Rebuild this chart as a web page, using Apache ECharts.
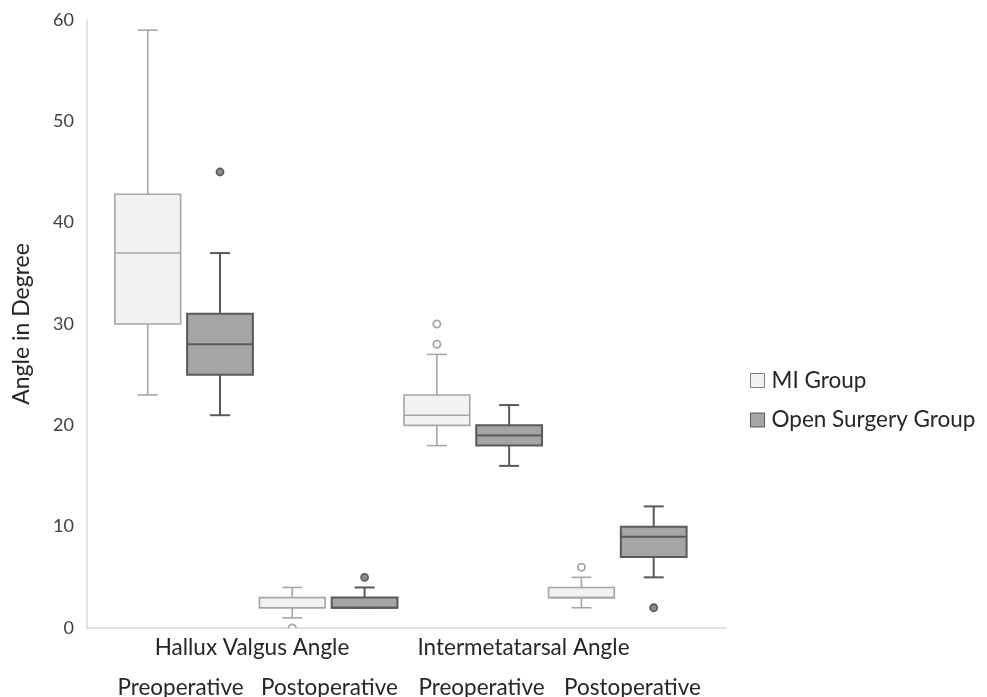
<!DOCTYPE html>
<html><head><meta charset="utf-8">
<script src="https://cdn.jsdelivr.net/npm/echarts@6/dist/echarts.min.js"></script>
<style>html,body{margin:0;padding:0;background:#fff}#c{width:987px;height:697px}</style>
</head><body><div id="c"></div>
<script>
// ---- data ----
const groupLabels = ['Hallux Valgus Angle', 'Intermetatarsal Angle'];
const phaseLabels = ['Preoperative', 'Postoperative', 'Preoperative', 'Postoperative'];
const seriesNames = ['MI Group', 'Open Surgery Group'];
const yTicks = [0, 10, 20, 30, 40, 50, 60];
// [min, Q1, median, Q3, max] for each phase (HVA pre, HVA post, IMA pre, IMA post)
const miBoxes = [
  [23, 30, 37, 42.8, 59],
  [1, 2, 2, 3, 4],
  [18, 20, 21, 23, 27],
  [2, 3, 3, 4, 5]
];
const openBoxes = [
  [21, 25, 28, 31, 37],
  [2, 2, 2, 3, 4],
  [16, 18, 19, 20, 22],
  [5, 7, 9, 10, 12]
];
// [phase index, value]
const miOutliers = [[1, 0], [2, 28], [2, 30], [3, 6]];
const openOutliers = [[0, 45], [1, 5], [3, 2]];

// ---- styles ----
const FONT = 'Lato';
const miStyle = { fill: '#f2f2f2', stroke: '#a6a6a6', lw: 1.6 };
const openStyle = { fill: '#a5a5a5', stroke: '#595959', lw: 2 };

function boxRenderer(side, st) {
  return function (params, api) {
    const idx = api.value(0);
    const unit = api.size([1, 0])[0];
    const cx = api.coord([idx, 0])[0] + side * unit * 0.25;
    const yMin = api.coord([idx, api.value(1)])[1];
    const yQ1 = api.coord([idx, api.value(2)])[1];
    const yMed = api.coord([idx, api.value(3)])[1];
    const yQ3 = api.coord([idx, api.value(4)])[1];
    const yMax = api.coord([idx, api.value(5)])[1];
    const bw = unit * 0.455;
    const cw = unit * 0.138;
    const ls = { stroke: st.stroke, lineWidth: st.lw, fill: null };
    return {
      type: 'group',
      children: [
        { type: 'line', shape: { x1: cx, y1: yMax, x2: cx, y2: yQ3 }, style: ls },
        { type: 'line', shape: { x1: cx, y1: yQ1, x2: cx, y2: yMin }, style: ls },
        { type: 'line', shape: { x1: cx - cw / 2, y1: yMax, x2: cx + cw / 2, y2: yMax }, style: ls },
        { type: 'line', shape: { x1: cx - cw / 2, y1: yMin, x2: cx + cw / 2, y2: yMin }, style: ls },
        { type: 'rect', shape: { x: cx - bw / 2, y: yQ3, width: bw, height: yQ1 - yQ3 },
          style: { fill: st.fill, stroke: st.stroke, lineWidth: st.lw } },
        { type: 'line', shape: { x1: cx - bw / 2, y1: yMed, x2: cx + bw / 2, y2: yMed }, style: ls }
      ]
    };
  };
}
function outlierRenderer(side, fill, stroke, lw) {
  return function (params, api) {
    const idx = api.value(0);
    const unit = api.size([1, 0])[0];
    const p = api.coord([idx, api.value(1)]);
    return {
      type: 'circle',
      shape: { cx: p[0] + side * unit * 0.25, cy: p[1], r: 3.6 },
      style: { fill: fill, stroke: stroke, lineWidth: lw }
    };
  };
}

const chart = echarts.init(document.getElementById('c'), null, { renderer: 'canvas' });
chart.setOption({
  backgroundColor: '#ffffff',
  animation: false,
  grid: { left: 87, right: 261, top: 20, bottom: 69, containLabel: false, outerBoundsMode: 'none' },
  xAxis: {
    type: 'value', min: -0.67, max: 3.75,
    axisLine: { show: true, onZero: false, lineStyle: { color: '#d9d9d9', width: 1.5 } },
    axisTick: { show: false }, axisLabel: { show: false }, splitLine: { show: false }
  },
  yAxis: {
    type: 'value', min: yTicks[0], max: yTicks[yTicks.length - 1], interval: 10,
    name: 'Angle in Degree', nameLocation: 'middle', nameRotate: 90, nameGap: 54,
    nameTextStyle: { fontFamily: FONT, fontSize: 23, color: '#262626' },
    axisLine: { show: true, onZero: false, lineStyle: { color: '#d9d9d9', width: 1.5 } },
    axisTick: { show: false },
    axisLabel: { fontFamily: FONT, fontSize: 18, color: '#404040', margin: 13 },
    splitLine: { show: false }
  },
  legend: {
    orient: 'vertical', left: 750, top: 369, padding: 0,
    itemWidth: 14, itemHeight: 14, itemGap: 16.5,
    icon: 'rect',
    textStyle: { fontFamily: FONT, fontSize: 22.5, color: '#262626', padding: [0, 0, 0, 2] },
    data: [
      { name: seriesNames[0], itemStyle: { color: miStyle.fill, borderColor: '#7f7f7f', borderWidth: 1 } },
      { name: seriesNames[1], itemStyle: { color: openStyle.fill, borderColor: openStyle.stroke, borderWidth: 1 } }
    ]
  },
  graphic: [
    ...groupLabels.map((t, i) => ({
      type: 'text', x: [252, 523.5][i], y: 648,
      style: { text: t, align: 'center', verticalAlign: 'middle', font: '22.5px ' + FONT, fill: '#262626' }
    })),
    ...phaseLabels.map((t, i) => ({
      type: 'text', x: [180.5, 329.5, 481.5, 632.5][i], y: 688,
      style: { text: t, align: 'center', verticalAlign: 'middle', font: '22.5px ' + FONT, fill: '#262626' }
    }))
  ],
  series: [
    {
      name: seriesNames[0], type: 'custom', renderItem: boxRenderer(-1, miStyle),
      itemStyle: { color: miStyle.fill, borderColor: miStyle.stroke },
      encode: { x: 0, y: [1, 2, 3, 4, 5] },
      data: miBoxes.map((b, i) => [i].concat(b)), z: 2
    },
    {
      name: seriesNames[1], type: 'custom', renderItem: boxRenderer(1, openStyle),
      itemStyle: { color: openStyle.fill, borderColor: openStyle.stroke },
      encode: { x: 0, y: [1, 2, 3, 4, 5] },
      data: openBoxes.map((b, i) => [i].concat(b)), z: 2
    },
    {
      name: seriesNames[0], type: 'custom', clip: true,
      renderItem: outlierRenderer(-1, '#ffffff', '#a6a6a6', 1.8),
      encode: { x: 0, y: 1 }, data: miOutliers, z: 3
    },
    {
      name: seriesNames[1], type: 'custom', clip: true,
      renderItem: outlierRenderer(1, '#8c8c8c', '#595959', 1.6),
      encode: { x: 0, y: 1 }, data: openOutliers, z: 3
    }
  ]
});
</script>
</body></html>
